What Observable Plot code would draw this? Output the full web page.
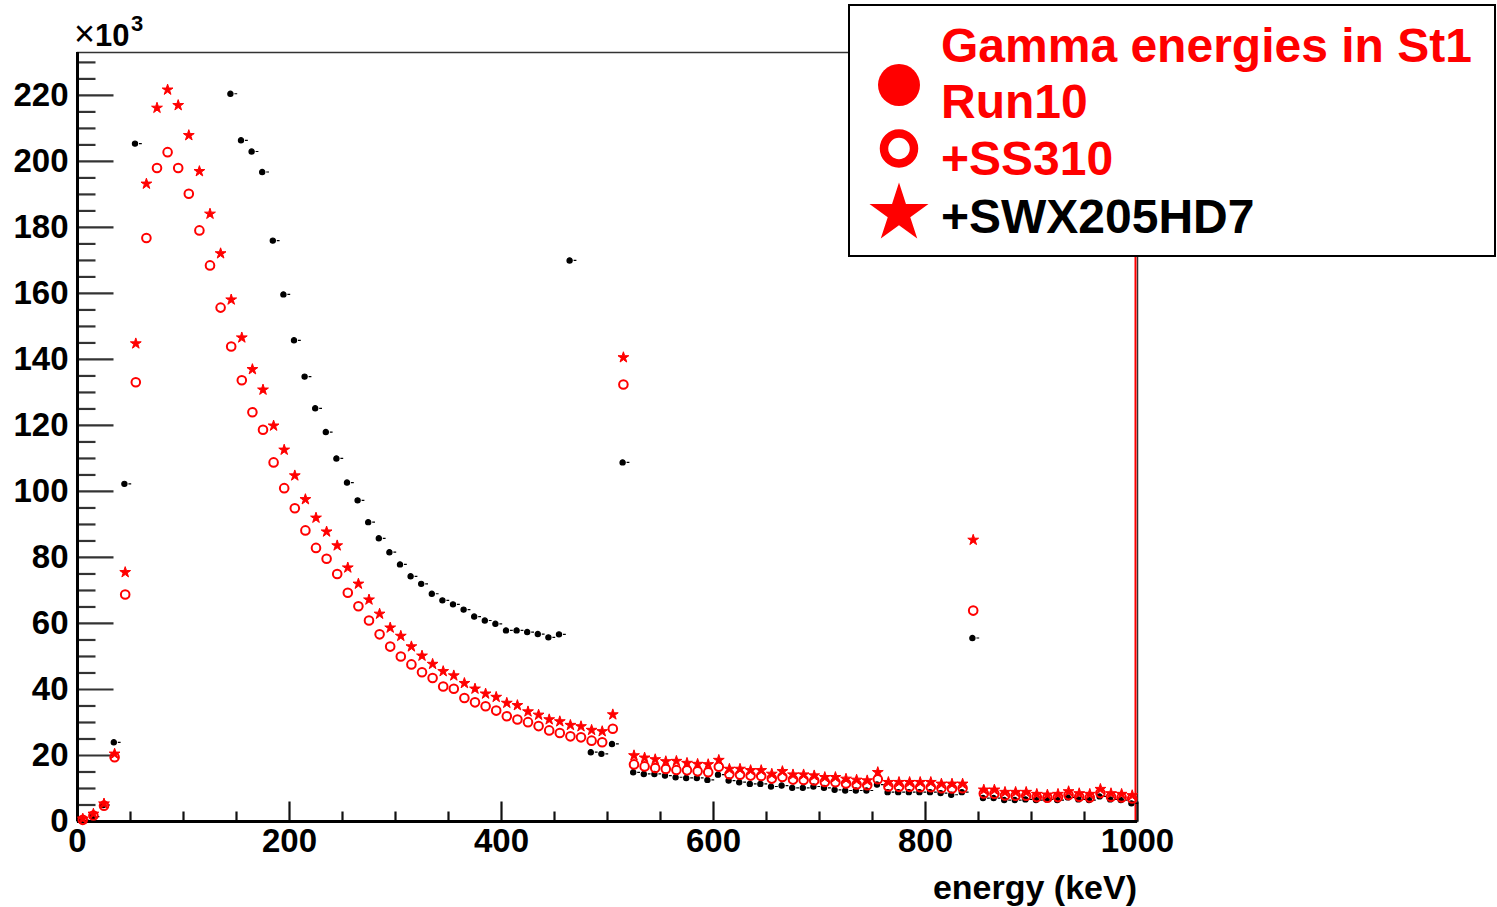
<!DOCTYPE html>
<html><head><meta charset="utf-8">
<script src="https://cdn.jsdelivr.net/npm/d3@7"></script>
<script src="https://cdn.jsdelivr.net/npm/@observablehq/plot@0.6"></script>
<style>
html,body{margin:0;padding:0;background:#fff;overflow:hidden;}
#wrap{position:relative;width:1497px;height:907px;}
#overlay{position:absolute;left:0;top:0;pointer-events:none;}
</style></head><body><div id="wrap"></div>
<script>
// bin centres (keV)
const energy = [5,15,25,35,45,55,65,75,85,95,105,115,125,135,145,155,165,175,185,195,
205,215,225,235,245,255,265,275,285,295,305,315,325,335,345,355,365,375,385,395,
405,415,425,435,445,455,465,475,485,495,505,515,525,535,545,555,565,575,585,595,
605,615,625,635,645,655,665,675,685,695,705,715,725,735,745,755,765,775,785,795,
805,815,825,835,845,855,865,875,885,895,905,915,925,935,945,955,965,975,985,995];

// counts (x10^3)
const run10 = [0.8,2.3,5.4,20.5,75.5,144.8,193.2,216.2,221.7,217.0,207.9,197.0,184.1,172.1,158.1,146.6,137.0,130.8,119.9,112.6,
104.8,97.6,92.0,87.8,83.6,76.9,72.0,67.2,62.9,58.7,56.2,53.0,50.2,47.7,45.5,44.2,41.9,40.2,38.7,37.7,
35.9,35.2,33.3,32.3,30.9,30.3,29.2,28.8,27.7,27.3,32.4,140.6,20.0,19.3,18.8,18.2,18.3,17.7,17.4,17.3,
18.6,15.9,15.9,15.5,15.5,14.4,15.2,14.2,14.2,13.9,13.4,13.4,12.9,12.6,12.4,14.9,11.9,11.9,11.9,11.9,
11.9,11.4,11.4,11.4,85.3,9.6,9.6,8.9,8.9,8.9,8.3,8.1,8.3,9.1,8.5,8.3,9.8,8.5,8.3,7.9];

const ss310 = [0.5,1.8,4.8,19.5,68.8,133.1,176.8,198.0,202.8,198.0,190.2,179.1,168.5,155.7,143.9,133.7,124.0,118.7,108.8,101.0,
94.9,88.2,82.9,79.6,75.0,69.3,65.2,60.9,56.7,53.0,50.0,47.6,45.2,43.5,40.9,40.2,37.4,36.1,34.9,33.6,
31.9,30.9,30.1,28.9,27.6,26.8,25.8,25.5,24.5,24.0,28.1,132.4,17.3,16.7,16.2,15.9,15.6,15.5,15.2,14.9,
16.6,14.3,14.2,13.9,13.8,13.0,13.5,12.7,12.6,12.4,12.0,11.9,11.5,11.2,11.0,12.8,10.6,10.5,10.5,10.4,
10.4,10.1,10.0,10.1,63.9,8.5,8.4,7.9,7.8,7.8,7.4,7.2,7.4,8.0,7.5,7.3,8.6,7.5,7.3,7.0];

// null = above the visible range (not drawn)
const swx205hd7 = [0.4,1.5,5.0,24.0,102.3,205.4,null,null,null,null,null,null,null,null,220.5,206.4,203.0,196.8,176.0,159.7,
145.8,134.8,125.2,118.0,110.0,102.7,97.3,90.7,85.8,81.6,77.9,74.3,72.0,69.0,67.0,65.8,64.2,62.1,60.9,59.9,
57.9,57.9,57.4,56.8,55.8,56.7,170.0,null,21.0,20.5,23.5,108.8,14.9,14.4,14.4,13.9,13.4,13.2,13.2,12.6,
14.2,12.4,11.9,11.4,11.4,10.6,10.9,10.2,10.2,10.6,10.2,9.6,9.4,9.4,9.4,11.2,8.9,8.9,8.9,8.9,
8.9,8.6,8.1,8.9,55.6,7.1,7.1,6.5,6.5,6.7,6.5,6.7,6.5,7.3,6.7,6.5,7.6,6.7,6.5,5.5];

const yMajorTicks = [0,20,40,60,80,100,120,140,160,180,200,220];
const yMinorTicks = [5,10,15,25,30,35,45,50,55,65,70,75,85,90,95,105,110,115,125,130,135,145,150,155,165,170,175,185,190,195,205,210,215,225,230];
const xMajorTicks = [0,200,400,600,800,1000];
const xMinorTicks = [50,100,150,250,300,350,450,500,550,650,700,750,850,900,950];

const legendTitle = "Gamma energies in St1";
const legendLabels = ["Run10", "+SS310", "+SWX205HD7"];
const xLabel = "energy (keV)";

const rows = (vals) => energy.map((e, i) => ({energy: e, value: vals[i]}));

const hTick = len => ({draw(ctx){ ctx.moveTo(0,0); ctx.lineTo(len,0); }});
const vTick = len => ({draw(ctx){ ctx.moveTo(0,0); ctx.lineTo(0,-len); }});
const blackSym = {draw(ctx){ ctx.moveTo(1.8,0); ctx.arc(-0.8,0,2.6,0,2*Math.PI); ctx.moveTo(3.2,0); ctx.lineTo(6,0); }};

const font = "'Liberation Sans', Arial, Helvetica, sans-serif";

const chart = Plot.plot({
  width: 1497, height: 907,
  marginLeft: 77, marginRight: 360, marginTop: 52, marginBottom: 86,
  x: {domain: [0, 1000]},
  y: {domain: [0, 233]},
  style: {fontFamily: font, background: "white", color: "#000"},
  marks: [
    Plot.frame({stroke: "#333", strokeWidth: 1.5}),
    Plot.ruleX([1000], {stroke: "#ff0000", strokeWidth: 2, dx: -2}),
    Plot.dot(yMajorTicks, {y: d => d, frameAnchor: "left", symbol: hTick(36), stroke: "#333", strokeWidth: 2.2, fill: "none"}),
    Plot.dot(yMinorTicks, {y: d => d, frameAnchor: "left", symbol: hTick(18), stroke: "#333", strokeWidth: 2.2, fill: "none"}),
    Plot.dot(xMajorTicks, {x: d => d, frameAnchor: "bottom", symbol: vTick(20), stroke: "#111", strokeWidth: 2.2, fill: "none"}),
    Plot.dot(xMinorTicks, {x: d => d, frameAnchor: "bottom", symbol: vTick(10), stroke: "#111", strokeWidth: 2.2, fill: "none"}),
    Plot.ruleX([0], {stroke: "#000", strokeWidth: 3}),
    Plot.ruleY([0], {stroke: "#000", strokeWidth: 3}),
    Plot.axisY(yMajorTicks, {tickSize: 0, tickPadding: 9, fontSize: 33, fontWeight: "bold", label: null, tickFormat: d => String(d)}),
    Plot.axisX(xMajorTicks, {tickSize: 0, tickPadding: 7, fontSize: 33, fontWeight: "bold", label: null, tickFormat: d => String(d)}),
    Plot.dot(rows(swx205hd7), {x: "energy", y: "value", symbol: blackSym, fill: "#000", stroke: "#000", strokeWidth: 1.2}),
    Plot.dot(rows(ss310), {x: "energy", y: "value", symbol: "circle", r: 4.3, fill: "none", stroke: "#ff0000", strokeWidth: 2}),
    Plot.dot(rows(run10), {x: "energy", y: "value", symbol: "star", r: 3.4, fill: "#ff0000", stroke: "#ff0000", strokeWidth: 1})
  ]
});

const wrap = document.getElementById("wrap");
wrap.appendChild(chart);

// overlay: exponent label, x-axis title, legend box
const ov = d3.select(wrap).append("svg").attr("id", "overlay").attr("width", 1497).attr("height", 907)
  .style("font-family", font);

const exp = ov.append("text").attr("x", 74).attr("y", 46).attr("fill", "#000");
exp.append("tspan").attr("font-size", 36).text("×");
exp.append("tspan").attr("font-size", 31).attr("font-weight", "bold").text("10");
ov.append("text").attr("x", 131).attr("y", 31).attr("font-size", 22).attr("font-weight", "bold").text("3");

ov.append("text").attr("x", 1137).attr("y", 899).attr("text-anchor", "end")
  .attr("font-size", 34).attr("font-weight", "bold").attr("fill", "#000").text(xLabel);

const lg = ov.append("g");
lg.append("rect").attr("x", 849).attr("y", 5).attr("width", 646).attr("height", 251)
  .attr("fill", "#fff").attr("stroke", "#000").attr("stroke-width", 2);
lg.append("text").attr("x", 941).attr("y", 62).attr("font-size", 48).attr("font-weight", "bold")
  .attr("fill", "#ff0000").text(legendTitle);
const lgY = [118, 175, 233];
const lgCol = ["#ff0000", "#ff0000", "#000"];
legendLabels.forEach((t, i) => {
  lg.append("text").attr("x", 941).attr("y", lgY[i]).attr("font-size", 48).attr("font-weight", "bold")
    .attr("fill", lgCol[i]).text(t);
});
lg.append("circle").attr("cx", 899).attr("cy", 85).attr("r", 21).attr("fill", "#ff0000");
lg.append("circle").attr("cx", 899).attr("cy", 148.5).attr("r", 15).attr("fill", "none")
  .attr("stroke", "#ff0000").attr("stroke-width", 8.5);
lg.append("path").attr("transform", "translate(899,213.5)")
  .attr("d", d3.symbol(d3.symbolStar, 1080)()).attr("fill", "#ff0000");
</script>
</body></html>
